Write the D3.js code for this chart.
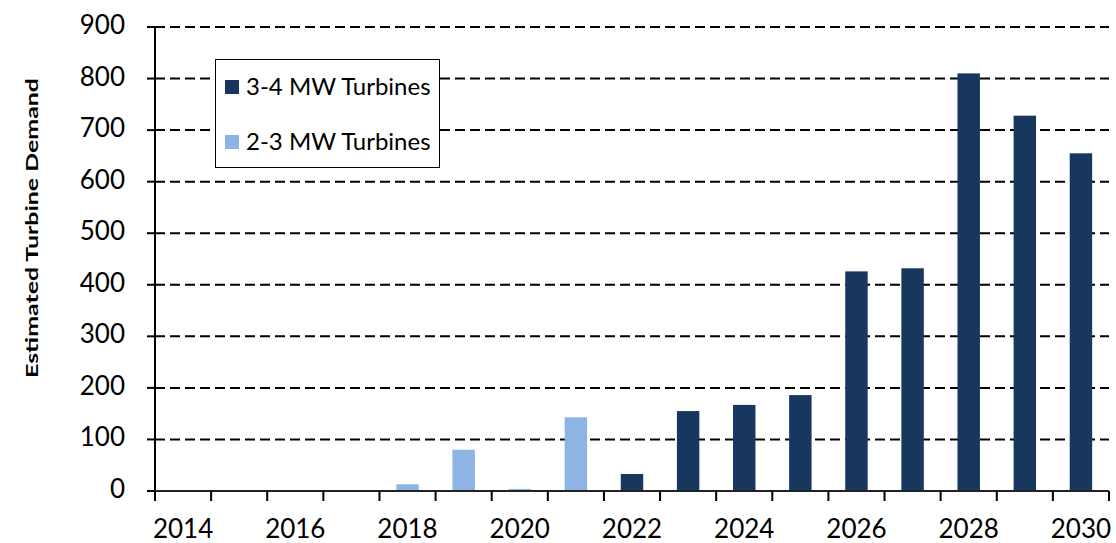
<!DOCTYPE html>
<html>
<head>
<meta charset="utf-8">
<script src="https://cdn.jsdelivr.net/npm/d3@7"></script>
<style>
  body { margin: 0; background: #fff; }
  text { font-family: Lato, "Open Sans", sans-serif; fill: #000; }
</style>
</head>
<body>
<div id="chart"></div>
<script>
// data
var years = [2014,2015,2016,2017,2018,2019,2020,2021,2022,2023,2024,2025,2026,2027,2028,2029,2030];
var mw34 = [0,0,0,0,0,0,0,0,33,155,167,186,426,432,810,728,655];
var mw23 = [0,0,0,0,13,80,4,143,0,0,0,0,0,0,0,0,0];
var yTicks = [0,100,200,300,400,500,600,700,800,900];
var xLabels = [2014,2016,2018,2020,2022,2024,2026,2028,2030];
var seriesNames = ["3-4 MW Turbines", "2-3 MW Turbines"];
var colors = ["#17375E", "#8DB4E2"];

var W = 1116, H = 543;
var plotL = 155, plotR = 1109, plotT = 27, plotB = 491;

var svg = d3.select("#chart").append("svg")
  .attr("width", W)
  .attr("height", H);

var x = d3.scaleBand()
  .domain(years)
  .range([plotL, plotR])
  .paddingInner(0.6)
  .paddingOuter(0.3);

var y = d3.scaleLinear()
  .domain([0, 900])
  .range([plotB, plotT]);

// dashed gridlines
svg.append("g").selectAll("line")
  .data(yTicks.filter(function(d) { return d > 0; }))
  .enter().append("line")
  .attr("x1", plotL).attr("x2", plotR)
  .attr("y1", function(d) { return y(d); })
  .attr("y2", function(d) { return y(d); })
  .attr("stroke", "#000")
  .attr("stroke-width", 2)
  .attr("stroke-dasharray", "10,5");

// bars
var rows = years.map(function(yr, i) {
  return { year: yr, vals: [mw34[i], mw23[i]] };
});
rows.forEach(function(r) {
  r.vals.forEach(function(v, k) {
    if (!v) return;
    svg.append("rect")
      .attr("x", x(r.year))
      .attr("width", x.bandwidth())
      .attr("y", y(v))
      .attr("height", y(0) - y(v))
      .attr("fill", colors[k]);
  });
});

// y axis
var yAxis = svg.append("g");
yAxis.append("line")
  .attr("x1", plotL).attr("x2", plotL)
  .attr("y1", y(900)).attr("y2", plotB + 10)
  .attr("stroke", "#000").attr("stroke-width", 2);
yAxis.selectAll(".ytick")
  .data(yTicks)
  .enter().append("line")
  .attr("x1", plotL - 8).attr("x2", plotL)
  .attr("y1", function(d) { return y(d); })
  .attr("y2", function(d) { return y(d); })
  .attr("stroke", "#000").attr("stroke-width", 2);
yAxis.selectAll("text")
  .data(yTicks)
  .enter().append("text")
  .attr("x", 125)
  .attr("y", function(d) { return y(d) + 7; })
  .attr("text-anchor", "end")
  .style("font-size", "26px")
  .text(function(d) { return d; });

// x axis
var xAxis = svg.append("g");
xAxis.append("line")
  .attr("x1", plotL).attr("x2", plotR)
  .attr("y1", plotB).attr("y2", plotB)
  .attr("stroke", "#222").attr("stroke-width", 2);
var step = x.step();
var bounds = years.map(function(yr) { return x(yr) - step * x.paddingInner() / 2; });
bounds.push(plotR);
xAxis.selectAll(".xtick")
  .data(bounds)
  .enter().append("line")
  .attr("x1", function(d) { return d; })
  .attr("x2", function(d) { return d; })
  .attr("y1", plotB).attr("y2", plotB + 10)
  .attr("stroke", "#000").attr("stroke-width", 2);
xAxis.selectAll("text")
  .data(xLabels)
  .enter().append("text")
  .attr("x", function(d) { return x(d) + x.bandwidth() / 2; })
  .attr("y", 538)
  .attr("text-anchor", "middle")
  .style("font-size", "26px")
  .text(function(d) { return d; });

// y title
svg.append("text")
  .attr("transform", "translate(38,228) rotate(-90)")
  .attr("text-anchor", "middle")
  .attr("textLength", 300)
  .attr("lengthAdjust", "spacingAndGlyphs")
  .style("font-size", "17px")
  .style("font-weight", "bold")
  .text("Estimated Turbine Demand");

// legend
var legend = svg.append("g");
legend.append("rect")
  .attr("x", 215.5).attr("y", 59.5)
  .attr("width", 224).attr("height", 108)
  .attr("fill", "#fff")
  .attr("stroke", "#000").attr("stroke-width", 1);
var items = legend.selectAll(".item")
  .data(seriesNames)
  .enter().append("g")
  .attr("transform", function(d, i) { return "translate(225," + (80 + i * 55) + ")"; });
items.append("rect")
  .attr("width", 14).attr("height", 14)
  .attr("fill", function(d, i) { return colors[i]; });
items.append("text")
  .attr("x", 21).attr("y", 15)
  .style("font-size", "24px")
  .text(function(d) { return d; });
</script>
</body>
</html>
